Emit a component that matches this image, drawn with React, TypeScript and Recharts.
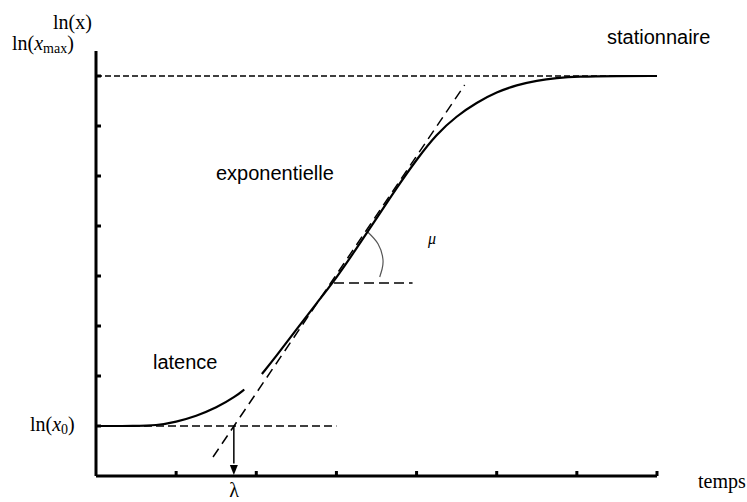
import React from 'react';
import { LineChart, Line, XAxis, YAxis, ReferenceLine, ReferenceDot } from 'recharts';

// growth curve (x: time units, y: ln(x) units)
const temps = [0, 0.5, 0.75, 1, 1.25, 1.5, 1.75, 1.85, 1.96, 2.07, 2.25, 2.5, 2.75, 3, 3.25, 3.5, 3.75, 4, 4.25, 4.5, 4.75, 5, 5.25, 5.5, 5.75, 6, 6.5, 7];
const lnX = [1, 1, 1.01, 1.08, 1.2, 1.36, 1.6, 1.73, null, 2.04, 2.4, 2.93, 3.45, 3.96, 4.55, 5.15, 5.76, 6.33, 6.84, 7.2, 7.47, 7.68, 7.82, 7.91, 7.96, 7.99, 8, 8];

// tangent through the exponential phase
const tangentT = [1.46, 4.6];
const tangentY = [0.38, 7.82];

// angle arc for mu
const arcT = [3.39, 3.52, 3.58, 3.57, 3.54];
const arcY = [4.88, 4.64, 4.34, 4.14, 3.98];

const xTicks = [1, 2, 3, 4, 5, 6, 7];
const yTicks = [1, 2, 3, 4, 5, 6, 7, 8];

const LN_X0 = 1;
const LN_XMAX = 8;
const LAMBDA = 1.72;
const MU_START = 2.97;
const MU_END = 3.95;
const MU_Y = 3.86;
const X0_END = 3;

const curve = temps.map((t, i) => ({ t, y: lnX[i] }));
const tangent = tangentT.map((t, i) => ({ t, y: tangentY[i] }));
const arc = arcT.map((t, i) => ({ t, y: arcY[i] }));

const serif = '"Liberation Serif", "Times New Roman", serif';
const sans = '"Liberation Sans", Arial, sans-serif';

const NoLabel = () => <g />;

const Arrow = (props: any) => {
  const { cx, cy } = props;
  return <path d={`M${cx - 4},${cy - 11} L${cx + 4},${cy - 11} L${cx},${cy - 1} Z`} fill="#000" />;
};

export default function App() {
  return (
    <div style={{ position: 'absolute', left: 0, top: 0, width: 747, height: 502, background: '#fff' }}>
      <LineChart width={747} height={502} margin={{ top: 51, right: 90, bottom: 26, left: 96 }}>
        <XAxis
          type="number"
          dataKey="t"
          domain={[0, 7]}
          ticks={xTicks}
          mirror
          tick={NoLabel}
          tickSize={5}
          axisLine={{ stroke: '#000', strokeWidth: 3 }}
          tickLine={{ stroke: '#000', strokeWidth: 3 }}
          allowDataOverflow
        />
        <YAxis
          type="number"
          domain={[0, 8.5]}
          ticks={yTicks}
          mirror
          tick={NoLabel}
          tickSize={5}
          axisLine={{ stroke: '#000', strokeWidth: 3 }}
          tickLine={{ stroke: '#000', strokeWidth: 3 }}
          allowDataOverflow
        />
        <ReferenceLine y={LN_XMAX} stroke="#000" strokeWidth={1.5} strokeDasharray="6 3" />
        <ReferenceLine segment={[{ x: 0, y: LN_X0 }, { x: X0_END, y: LN_X0 }]} stroke="#000" strokeWidth={1.5} strokeDasharray="8 4" />
        <ReferenceLine segment={[{ x: MU_START, y: MU_Y }, { x: MU_END, y: MU_Y }]} stroke="#000" strokeWidth={1.5} strokeDasharray="10 5" />
        <ReferenceLine segment={[{ x: LAMBDA, y: LN_X0 }, { x: LAMBDA, y: 0.25 }]} stroke="#000" strokeWidth={1.5} />
        <ReferenceDot x={LAMBDA} y={0} r={5} shape={<Arrow />} />
        <Line data={tangent} dataKey="y" type="linear" stroke="#000" strokeWidth={1.5} strokeDasharray="10 6" dot={false} isAnimationActive={false} />
        <Line data={arc} dataKey="y" type="natural" stroke="#555" strokeWidth={1.2} dot={false} isAnimationActive={false} />
        <Line data={curve} dataKey="y" type="basis" stroke="#000" strokeWidth={2.2} dot={false} isAnimationActive={false} />
      </LineChart>
      <svg width={747} height={502} style={{ position: 'absolute', left: 0, top: 0, pointerEvents: 'none' }}>
        <g fontFamily={serif} fontSize={20} fill="#000">
          <text x={53} y={29}>ln(x)</text>
          <text x={12} y={50}>
            ln(<tspan fontStyle="italic">x</tspan>
            <tspan fontSize={14} dy={3}>max</tspan>
            <tspan dy={-3}>)</tspan>
          </text>
          <text x={30} y={431}>
            ln(<tspan fontStyle="italic">x</tspan>
            <tspan fontSize={14} dy={3}>0</tspan>
            <tspan dy={-3}>)</tspan>
          </text>
          <text x={234} y={497} textAnchor="middle">λ</text>
          <text x={698} y={488}>temps</text>
          <text x={428} y={244} fontSize={16} fontStyle="italic">μ</text>
        </g>
        <g fontFamily={sans} fontSize={20} fill="#000">
          <text x={607} y={44}>stationnaire</text>
          <text x={216} y={180}>exponentielle</text>
          <text x={153} y={369}>latence</text>
        </g>
      </svg>
    </div>
  );
}
